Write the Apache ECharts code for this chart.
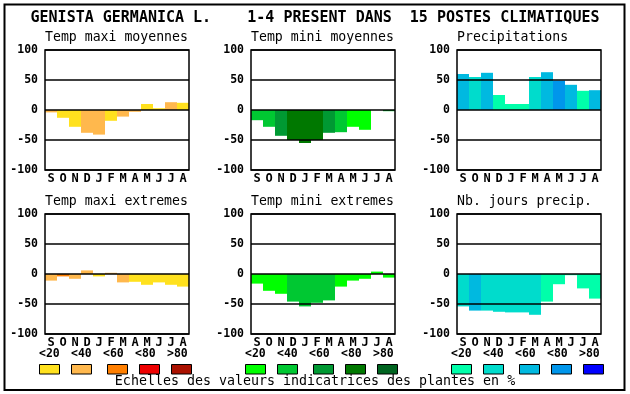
<!DOCTYPE html>
<html>
<head>
<meta charset="utf-8">
<script src="https://cdn.jsdelivr.net/npm/echarts@6/dist/echarts.min.js"></script>
<style>
html,body{margin:0;padding:0;background:#fff;}
#c{width:630px;height:394px;}
</style>
</head>
<body>
<div id="c"></div>
<script>
// ---- data ----
const months = ['S','O','N','D','J','F','M','A','M','J','J','A'];
const yTicks = [-100, -50, 0, 50, 100];
const legendLabels = ['<20','<40','<60','<80','>80'];

const mainTitle = 'GENISTA GERMANICA L.    1-4 PRESENT DANS  15 POSTES CLIMATIQUES';
const panelTitles = ['Temp maxi moyennes','Temp mini moyennes','Precipitations',
                     'Temp maxi extremes','Temp mini extremes','Nb. jours precip.'];
const footer = 'Echelles des valeurs indicatrices des plantes en %';

const tmaxMoy      = [-4,-13,-28,-38,-41,-18,-11,-3,10,3,13,12];
const tmaxMoyClass = [1,0,0,1,1,0,1,1,0,0,1,0];
const tminMoy      = [-17,-28,-43,-50,-55,-50,-38,-37,-28,-33,0,-2];
const tminMoyClass = [1,1,2,3,3,3,2,1,0,0,0,1];
const precip       = [60,55,62,25,10,10,55,63,49,42,32,33];
const precipClass  = [2,1,2,0,0,0,1,2,3,2,0,2];
const tmaxExt      = [-11,-4,-8,6,-4,2,-14,-13,-18,-14,-18,-21];
const tmaxExtClass = [1,2,1,1,0,1,1,0,0,0,0,0];
const tminExt      = [-16,-28,-33,-46,-54,-48,-44,-21,-11,-8,4,-6];
const tminExtClass = [0,0,0,1,1,1,1,0,0,0,0,0];
const nbJours      = [-54,-61,-61,-63,-64,-64,-68,-46,-17,-2,-24,-41];
const nbJoursClass = [1,2,1,1,1,1,1,0,0,0,0,0];

const warm  = ['#FFE11E','#FFB84D','#FF7F00','#EE0000','#AA1100'];
const green = ['#00FF00','#00C832','#009933','#007800','#006420'];
const blue  = ['#00FFAA','#00DCCC','#00B9E0','#0096EB','#0000FF'];

// ---- layout ----
const mono = 'DejaVu Sans Mono';
const colLeft = [45, 251, 457];
const rowTop = [50, 214];
const plotW = 144, plotH = 120;

const panels = [
  {vals: tmaxMoy, cls: tmaxMoyClass, pal: warm},
  {vals: tminMoy, cls: tminMoyClass, pal: green},
  {vals: precip,  cls: precipClass,  pal: blue},
  {vals: tmaxExt, cls: tmaxExtClass, pal: warm},
  {vals: tminExt, cls: tminExtClass, pal: green},
  {vals: nbJours, cls: nbJoursClass, pal: blue}
];

const grids = [], xAxes = [], yAxes = [], series = [], titles = [];
titles.push({text: mainTitle, left: 'center', top: 10.5, padding: 0,
  textStyle: {fontFamily: mono, fontWeight: 'bold', fontSize: 15, color: '#000'}});

panels.forEach((p, i) => {
  const c = i % 3, r = Math.floor(i / 3);
  grids.push({left: colLeft[c], top: rowTop[r], width: plotW, height: plotH,
    show: true, borderColor: '#000', borderWidth: 1.5, backgroundColor: 'transparent', z: 5});
  xAxes.push({type: 'category', gridIndex: i, data: months,
    axisLine: {show: false}, axisTick: {show: false}, splitLine: {show: false},
    axisLabel: {interval: 0, margin: 3, color: '#000', fontFamily: mono, fontWeight: 'bold', fontSize: 12}});
  yAxes.push({type: 'value', gridIndex: i, min: yTicks[0], max: yTicks[yTicks.length-1], interval: 50, z: 5,
    axisLine: {show: false}, axisTick: {show: false},
    splitLine: {show: true, lineStyle: {color: '#000', width: 1.5}},
    axisLabel: {margin: 7, color: '#000', fontFamily: mono, fontWeight: 'bold', fontSize: 11.5}});
  series.push({type: 'bar', xAxisIndex: i, yAxisIndex: i, barCategoryGap: '0%', barWidth: '100%',
    silent: true, z: 2,
    data: p.vals.map((v, k) => ({value: v, itemStyle: {color: p.pal[p.cls[k]]}}))});
  titles.push({text: panelTitles[i], left: colLeft[c], top: rowTop[r] - 18.5, padding: 0,
    textStyle: {fontFamily: mono, fontWeight: 'normal', fontSize: 13.2, color: '#000'}});
});

// legend graphics
const legendLabelX = [[39,71,103,135,167],[245,277,309,341,373],[451,483,515,547,579]];
const legendBoxX   = [[39,71,107,139,171],[245,277,313,345,377],[451,483,519,551,583]];
const pals = [warm, green, blue];
const graphics = [];
graphics.push({type: 'rect', shape: {x: 4.5, y: 4.5, width: 620, height: 385.5},
  style: {fill: 'none', stroke: '#000', lineWidth: 2}, z: 10, silent: true});
for (let g = 0; g < 3; g++) {
  for (let k = 0; k < 5; k++) {
    graphics.push({type: 'text', x: legendLabelX[g][k], y: 354, silent: true,
      style: {text: legendLabels[k], fill: '#000', font: 'bold 11.5px "DejaVu Sans Mono"',
        textAlign: 'left', textVerticalAlign: 'middle'}});
    graphics.push({type: 'rect', silent: true,
      shape: {x: legendBoxX[g][k] + 0.5, y: 364.5, width: 20, height: 9.5},
      style: {fill: pals[g][k], stroke: '#000', lineWidth: 1}});
  }
}
graphics.push({type: 'text', x: 315, y: 382, silent: true,
  style: {text: footer, fill: '#000', font: '13.3px "DejaVu Sans Mono"',
    textAlign: 'center', textVerticalAlign: 'middle'}});

const chart = echarts.init(document.getElementById('c'), null, {renderer: 'canvas'});
chart.setOption({
  animation: false,
  backgroundColor: '#fff',
  title: titles,
  grid: grids,
  xAxis: xAxes,
  yAxis: yAxes,
  series: series,
  graphic: graphics
});
</script>
</body>
</html>
